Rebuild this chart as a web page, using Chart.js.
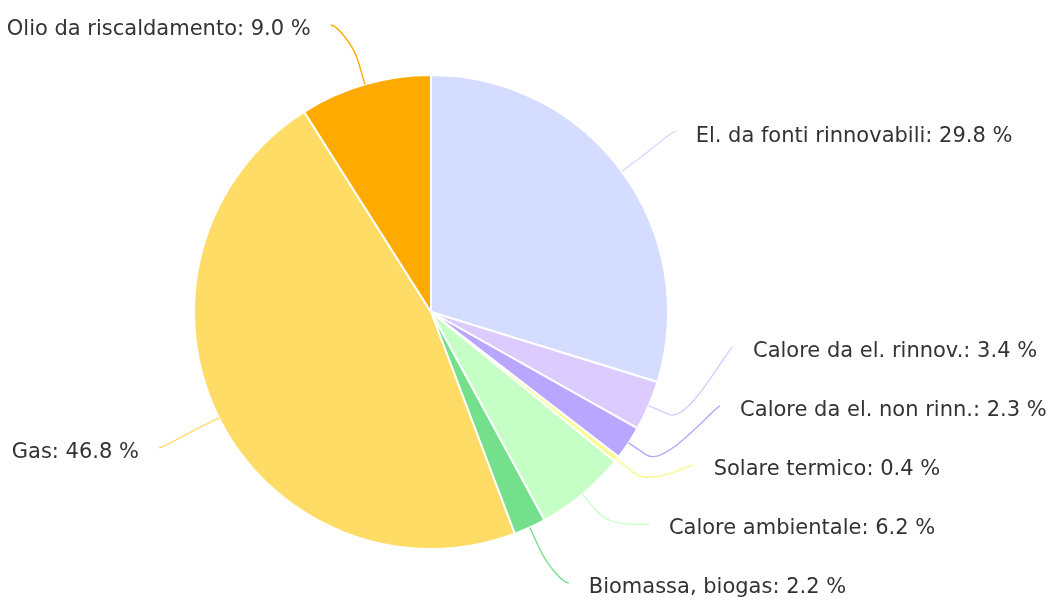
<!DOCTYPE html>
<html>
<head>
<meta charset="utf-8">
<script src="https://cdn.jsdelivr.net/npm/chart.js@4.4.1/dist/chart.umd.min.js"></script>
<style>
  html, body { margin: 0; padding: 0; background: #fff; }
  #wrap { width: 1059px; height: 602px; position: relative; }
</style>
</head>
<body>
<div id="wrap"><canvas id="pie"></canvas></div>
<script>
const labels = [
  "El. da fonti rinnovabili",
  "Calore da el. rinnov.",
  "Calore da el. non rinn.",
  "Solare termico",
  "Calore ambientale",
  "Biomassa, biogas",
  "Gas",
  "Olio da riscaldamento"
];
const values = [29.8, 3.4, 2.3, 0.4, 6.2, 2.2, 46.8, 9.0];
const colors = ["#d4dcff", "#dccbff", "#b9a6ff", "#fbfa8c", "#c6ffc6", "#74e08c", "#ffdc66", "#ffaa00"];

// outside labels with soft connectors
const outsideLabels = {
  id: "outsideLabels",
  afterDraw(chart) {
    const ctx = chart.ctx;
    const arcs = chart.getDatasetMeta(0).data;
    const R = 304, gap = 59, minY = 25, maxY = 583, textGap = 20;
    const items = arcs.map((a, i) => {
      const mid = (a.startAngle + a.endAngle) / 2;
      return {
        i, mid, cx: a.x, cy: a.y, r: a.outerRadius,
        right: Math.cos(mid) >= 0,
        y: a.y + R * Math.sin(mid)
      };
    });

    [true, false].forEach(side => {
      const list = items.filter(it => it.right === side).sort((a, b) => a.y - b.y);
      for (let k = 1; k < list.length; k++) list[k].y = Math.max(list[k].y, list[k - 1].y + gap);
      for (let k = list.length - 1; k >= 0; k--) {
        if (k === list.length - 1) list[k].y = Math.min(list[k].y, maxY);
        else list[k].y = Math.min(list[k].y, list[k + 1].y - gap);
      }
      list.forEach(it => { it.y = Math.max(it.y, minY); });
    });

    ctx.save();
    items.forEach(it => {
      const dy = it.y - it.cy;
      const dx = Math.sqrt(Math.max(R * R - dy * dy, 0));
      const lx = it.cx + (it.right ? dx : -dx);
      const ly = it.y;
      const tx = it.cx + it.r * Math.cos(it.mid);
      const ty = it.cy + it.r * Math.sin(it.mid);
      const bx = it.cx + (it.r + 22) * Math.cos(it.mid);
      const by = it.cy + (it.r + 22) * Math.sin(it.mid);

      ctx.beginPath();
      ctx.moveTo(lx, ly);
      ctx.bezierCurveTo(lx + (it.right ? -5 : 5), ly, 2 * bx - tx, 2 * by - ty, bx, by);
      ctx.lineTo(tx, ty);
      ctx.strokeStyle = colors[it.i];
      ctx.lineWidth = 1.4;
      ctx.stroke();

      ctx.font = "21px 'DejaVu Sans'";
      ctx.fillStyle = "#333333";
      ctx.textBaseline = "middle";
      ctx.textAlign = it.right ? "left" : "right";
      const txt = labels[it.i] + ": " + values[it.i].toFixed(1) + " %";
      ctx.fillText(txt, lx + (it.right ? textGap : -textGap), ly + 5);
    });
    ctx.restore();
  }
};

new Chart(document.getElementById("pie"), {
  type: "pie",
  data: {
    labels: labels,
    datasets: [{
      data: values,
      backgroundColor: colors,
      borderColor: "#ffffff",
      borderWidth: 2,
      hoverOffset: 0
    }]
  },
  options: {
    responsive: true,
    maintainAspectRatio: false,
    animation: false,
    layout: { padding: { left: 193, right: 390, top: 74, bottom: 52 } },
    plugins: {
      legend: { display: false },
      tooltip: { enabled: false }
    }
  },
  plugins: [outsideLabels]
});
</script>
</body>
</html>
